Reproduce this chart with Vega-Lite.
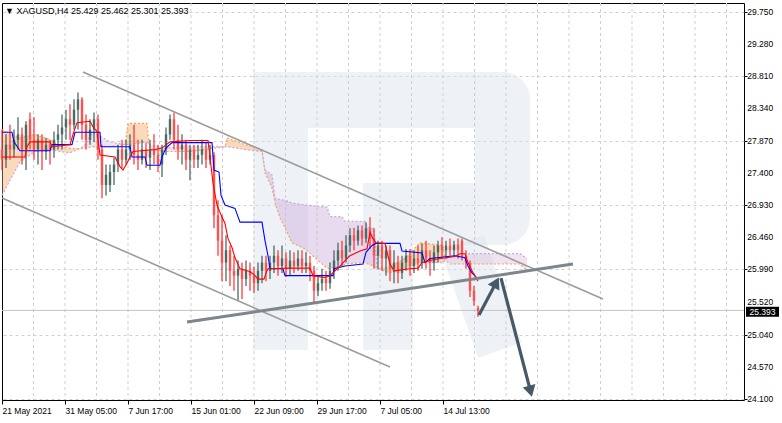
{
  "$schema": "https://vega.github.io/schema/vega-lite/v6.json",
  "width": 742,
  "height": 397,
  "autosize": {"type": "none"},
  "padding": {"left": 2, "top": 3, "right": 38, "bottom": 23},
  "background": "#ffffff",
  "config": {"view": {"stroke": "#000000", "strokeWidth": 1}, "font": "Liberation Sans"},
  "datasets": {
    "vgrid": [
      {"t":15.75},{"t":31.5},{"t":47.25},{"t":63},{"t":78.75},{"t":94.5},{"t":110.25},{"t":126},{"t":141.75},{"t":157.5},
      {"t":173.25},{"t":189},{"t":204.75},{"t":220.5},{"t":236.25},{"t":252},{"t":267.75},{"t":283.5},{"t":299.25},{"t":315},
      {"t":330.75},{"t":346.5},{"t":362.25}
    ],
    "ylab": [
      {"p":24.1},{"p":24.57},{"p":25.04},{"p":25.52},{"p":25.99},{"p":26.46},{"p":26.93},{"p":27.4},{"p":27.87},{"p":28.34},{"p":28.81},{"p":29.28},{"p":29.75}
    ],
    "wm": [
      {"x1":125.5,"x2":153,"y1":28.869,"y2":24.815},
      {"x1":153,"x2":237,"y1":28.869,"y2":28.053},
      {"x1":180.5,"x2":237,"y1":27.251,"y2":26.347},
      {"x1":180.5,"x2":205.5,"y1":26.347,"y2":24.815}
    ],
    "wmbowl": [
      {"x1":236.5,"x2":264,"y1":28.869,"y2":26.347}
    ],
    "wmleg": [
      {"t":230,"p":26.38},{"t":249,"p":24.815}
    ],
    "bars": [
      {"t":0,"o":27.74,"h":28.03,"l":27.44,"c":27.59},{"t":2,"o":27.59,"h":27.96,"l":27.47,"c":27.81},
      {"t":4,"o":27.81,"h":28.10,"l":27.59,"c":27.74},{"t":6,"o":27.74,"h":28.03,"l":27.62,"c":27.88},
      {"t":8,"o":27.88,"h":28.21,"l":27.74,"c":27.96},{"t":10,"o":27.96,"h":28.06,"l":27.52,"c":27.74},
      {"t":12,"o":27.74,"h":28.15,"l":27.44,"c":28.10},{"t":14,"o":28.18,"h":28.28,"l":27.74,"c":27.88},
      {"t":16,"o":27.88,"h":28.21,"l":27.59,"c":27.74},{"t":18,"o":27.74,"h":27.96,"l":27.52,"c":27.88},
      {"t":20,"o":27.88,"h":27.96,"l":27.44,"c":27.71},{"t":22,"o":27.71,"h":27.91,"l":27.59,"c":27.81},
      {"t":24,"o":27.81,"h":27.88,"l":27.52,"c":27.74},{"t":26,"o":27.74,"h":28.00,"l":27.62,"c":27.88},
      {"t":28,"o":27.88,"h":28.10,"l":27.74,"c":27.96},{"t":30,"o":27.96,"h":28.25,"l":27.74,"c":28.06},
      {"t":32,"o":28.06,"h":28.32,"l":27.88,"c":28.18},{"t":34,"o":28.18,"h":28.40,"l":27.88,"c":28.10},
      {"t":36,"o":28.10,"h":28.47,"l":28.03,"c":28.32},{"t":38,"o":28.32,"h":28.57,"l":28.03,"c":28.47},
      {"t":40,"o":28.47,"h":28.50,"l":27.88,"c":28.10},{"t":42,"o":28.10,"h":28.25,"l":27.74,"c":27.88},
      {"t":44,"o":27.88,"h":28.18,"l":27.81,"c":28.03},{"t":46,"o":28.03,"h":28.28,"l":27.85,"c":28.18},
      {"t":48,"o":28.18,"h":28.25,"l":27.59,"c":27.74},{"t":50,"o":27.74,"h":27.81,"l":27.03,"c":27.22},
      {"t":52,"o":27.22,"h":27.52,"l":27.07,"c":27.37},{"t":54,"o":27.22,"h":27.52,"l":27.12,"c":27.41},
      {"t":56,"o":27.41,"h":27.62,"l":27.22,"c":27.52},{"t":58,"o":27.52,"h":27.81,"l":27.41,"c":27.74},
      {"t":60,"o":27.74,"h":27.88,"l":27.47,"c":27.59},{"t":62,"o":27.59,"h":27.88,"l":27.52,"c":27.74},
      {"t":64,"o":27.74,"h":27.96,"l":27.59,"c":27.81},{"t":66,"o":27.81,"h":28.10,"l":27.52,"c":27.66},
      {"t":68,"o":27.66,"h":27.88,"l":27.44,"c":27.59},{"t":70,"o":27.59,"h":27.88,"l":27.52,"c":27.74},
      {"t":72,"o":27.74,"h":27.84,"l":27.47,"c":27.62},{"t":74,"o":27.62,"h":27.88,"l":27.44,"c":27.74},
      {"t":76,"o":27.74,"h":27.96,"l":27.52,"c":27.66},{"t":78,"o":27.66,"h":27.81,"l":27.41,"c":27.52},
      {"t":80,"o":27.52,"h":27.81,"l":27.34,"c":27.74},{"t":82,"o":27.74,"h":28.06,"l":27.66,"c":27.96},
      {"t":84,"o":27.96,"h":28.25,"l":27.88,"c":28.18},{"t":86,"o":28.18,"h":28.28,"l":27.74,"c":27.88},
      {"t":88,"o":27.88,"h":28.10,"l":27.59,"c":27.74},{"t":90,"o":27.74,"h":27.96,"l":27.52,"c":27.81},
      {"t":92,"o":27.81,"h":27.88,"l":27.44,"c":27.59},{"t":94,"o":27.59,"h":27.81,"l":27.29,"c":27.74},
      {"t":96,"o":27.74,"h":27.81,"l":27.47,"c":27.59},{"t":98,"o":27.59,"h":27.81,"l":27.47,"c":27.66},
      {"t":100,"o":27.66,"h":27.88,"l":27.52,"c":27.74},{"t":102,"o":27.74,"h":27.85,"l":27.47,"c":27.59},
      {"t":104,"o":27.59,"h":27.81,"l":27.52,"c":27.66},{"t":106,"o":27.66,"h":27.70,"l":26.59,"c":26.78},
      {"t":108,"o":26.78,"h":27.00,"l":26.19,"c":26.41},{"t":110,"o":26.41,"h":26.78,"l":25.82,"c":26.09},
      {"t":112,"o":26.09,"h":26.49,"l":25.82,"c":26.27},{"t":114,"o":26.27,"h":26.34,"l":25.75,"c":25.97},
      {"t":116,"o":25.97,"h":26.19,"l":25.68,"c":25.90},{"t":118,"o":25.90,"h":26.12,"l":25.53,"c":26.00},
      {"t":120,"o":26.00,"h":26.09,"l":25.56,"c":25.85},{"t":122,"o":25.85,"h":26.12,"l":25.75,"c":25.97},
      {"t":124,"o":25.97,"h":26.09,"l":25.68,"c":25.90},{"t":126,"o":25.90,"h":26.03,"l":25.65,"c":25.79},
      {"t":128,"o":25.79,"h":26.09,"l":25.68,"c":25.97},{"t":130,"o":25.97,"h":26.19,"l":25.79,"c":26.09},
      {"t":132,"o":26.09,"h":26.19,"l":25.82,"c":25.97},{"t":134,"o":25.97,"h":26.19,"l":25.85,"c":26.09},
      {"t":136,"o":26.09,"h":26.34,"l":25.94,"c":26.19},{"t":138,"o":26.19,"h":26.27,"l":25.90,"c":26.04},
      {"t":140,"o":26.04,"h":26.34,"l":25.94,"c":26.15},{"t":142,"o":26.15,"h":26.24,"l":25.88,"c":26.00},
      {"t":144,"o":26.00,"h":26.27,"l":25.90,"c":26.12},{"t":146,"o":26.12,"h":26.24,"l":25.94,"c":26.04},
      {"t":148,"o":26.04,"h":26.27,"l":25.97,"c":26.15},{"t":150,"o":26.15,"h":26.27,"l":25.94,"c":26.04},
      {"t":152,"o":26.04,"h":26.24,"l":25.94,"c":26.09},{"t":154,"o":26.09,"h":26.19,"l":25.82,"c":25.97},
      {"t":156,"o":25.97,"h":26.04,"l":25.50,"c":25.68},{"t":158,"o":25.68,"h":25.90,"l":25.60,"c":25.79},
      {"t":160,"o":25.79,"h":26.00,"l":25.68,"c":25.85},{"t":162,"o":25.85,"h":25.97,"l":25.68,"c":25.79},
      {"t":164,"o":25.79,"h":26.09,"l":25.71,"c":25.97},{"t":166,"o":25.97,"h":26.27,"l":25.85,"c":26.12},
      {"t":168,"o":26.12,"h":26.38,"l":25.97,"c":26.27},{"t":170,"o":26.27,"h":26.41,"l":26.04,"c":26.15},
      {"t":172,"o":26.15,"h":26.49,"l":26.09,"c":26.34},{"t":174,"o":26.34,"h":26.59,"l":26.24,"c":26.49},
      {"t":176,"o":26.49,"h":26.60,"l":26.27,"c":26.41},{"t":178,"o":26.41,"h":26.63,"l":26.34,"c":26.56},
      {"t":180,"o":26.56,"h":26.63,"l":26.34,"c":26.44},{"t":182,"o":26.44,"h":26.68,"l":26.38,"c":26.59},
      {"t":184,"o":26.59,"h":26.75,"l":26.29,"c":26.44},{"t":186,"o":26.44,"h":26.59,"l":26.00,"c":26.19},
      {"t":188,"o":26.19,"h":26.41,"l":26.00,"c":26.34},{"t":190,"o":26.34,"h":26.41,"l":25.97,"c":26.15},
      {"t":192,"o":26.15,"h":26.34,"l":25.90,"c":26.27},{"t":194,"o":26.27,"h":26.34,"l":25.82,"c":26.00},
      {"t":196,"o":26.00,"h":26.27,"l":25.79,"c":26.09},{"t":198,"o":26.09,"h":26.19,"l":25.79,"c":25.94},
      {"t":200,"o":25.94,"h":26.19,"l":25.85,"c":26.09},{"t":202,"o":26.09,"h":26.29,"l":25.97,"c":26.19},
      {"t":204,"o":26.19,"h":26.29,"l":25.90,"c":26.04},{"t":206,"o":26.04,"h":26.27,"l":25.94,"c":26.15},
      {"t":208,"o":26.15,"h":26.34,"l":25.97,"c":26.09},{"t":210,"o":26.09,"h":26.37,"l":26.00,"c":26.27},
      {"t":212,"o":26.27,"h":26.41,"l":26.00,"c":26.15},{"t":214,"o":26.15,"h":26.27,"l":25.90,"c":26.09},
      {"t":216,"o":26.09,"h":26.34,"l":25.97,"c":26.24},{"t":218,"o":26.24,"h":26.41,"l":26.09,"c":26.34},
      {"t":220,"o":26.34,"h":26.46,"l":26.15,"c":26.27},{"t":222,"o":26.27,"h":26.41,"l":26.15,"c":26.34},
      {"t":224,"o":26.34,"h":26.44,"l":26.19,"c":26.27},{"t":226,"o":26.27,"h":26.41,"l":26.18,"c":26.35},
      {"t":228,"o":26.35,"h":26.44,"l":26.15,"c":26.27},{"t":230,"o":26.41,"h":26.44,"l":26.12,"c":26.19},
      {"t":232,"o":26.19,"h":26.27,"l":26.00,"c":26.09},{"t":234,"o":26.09,"h":26.12,"l":25.59,"c":25.68},
      {"t":236,"o":25.68,"h":25.75,"l":25.46,"c":25.53},{"t":238,"o":25.429,"h":25.462,"l":25.301,"c":25.393}
    ],
    "tenkan": [
      {"t":0,"p":27.63},{"t":11.5,"p":27.63},{"t":12.5,"p":27.78},{"t":14,"p":27.85},{"t":24,"p":27.85},
      {"t":25,"p":27.78},{"t":34,"p":27.81},{"t":35.5,"p":27.96},{"t":37.5,"p":28.13},{"t":44,"p":28.15},
      {"t":45.5,"p":28.07},{"t":47.5,"p":28.00},{"t":49,"p":27.66},{"t":56.5,"p":27.63},{"t":59,"p":27.49},
      {"t":60.5,"p":27.44},{"t":62.5,"p":27.54},{"t":64,"p":27.63},{"t":65.5,"p":27.71},{"t":76.5,"p":27.74},
      {"t":80,"p":27.76},{"t":84,"p":27.85},{"t":94,"p":27.87},{"t":103,"p":27.87},{"t":104,"p":27.63},
      {"t":105.5,"p":27.25},{"t":107.5,"p":26.93},{"t":109,"p":26.82},{"t":111.5,"p":26.66},{"t":113,"p":26.44},
      {"t":115,"p":26.31},{"t":116.5,"p":26.16},{"t":119,"p":26.00},{"t":124,"p":25.96},{"t":126.5,"p":25.90},
      {"t":128,"p":25.85},{"t":131,"p":25.85},{"t":132,"p":25.94},{"t":133,"p":26.00},{"t":144,"p":26.01},
      {"t":154,"p":26.01},{"t":155.5,"p":25.90},{"t":161.5,"p":25.87},{"t":164,"p":25.90},{"t":166.5,"p":25.97},
      {"t":169,"p":26.04},{"t":171.5,"p":26.12},{"t":174,"p":26.19},{"t":179,"p":26.26},{"t":182.5,"p":26.29},
      {"t":184,"p":26.53},{"t":185.5,"p":26.44},{"t":187,"p":26.38},{"t":191.5,"p":26.37},{"t":194,"p":26.07},
      {"t":196,"p":25.97},{"t":204,"p":26.00},{"t":208,"p":26.01},{"t":210,"p":26.09},{"t":214,"p":26.12},
      {"t":219,"p":26.15},{"t":226.5,"p":26.18},{"t":229,"p":26.22},{"t":231.5,"p":26.22},{"t":233,"p":26.09},
      {"t":235,"p":25.97},{"t":238,"p":25.82}
    ],
    "kijun": [
      {"t":0,"p":27.99},{"t":5,"p":27.99},{"t":6,"p":27.85},{"t":9,"p":27.72},{"t":24,"p":27.72},
      {"t":25,"p":27.81},{"t":35,"p":27.81},{"t":36.5,"p":27.99},{"t":49,"p":27.99},{"t":49.5,"p":27.78},
      {"t":64,"p":27.78},{"t":65,"p":27.63},{"t":71.5,"p":27.63},{"t":72.5,"p":27.51},{"t":79,"p":27.51},
      {"t":80,"p":27.63},{"t":82,"p":27.76},{"t":85,"p":27.84},{"t":105,"p":27.84},{"t":106,"p":27.44},
      {"t":108.5,"p":27.41},{"t":109.5,"p":27.07},{"t":111.5,"p":26.93},{"t":116.5,"p":26.88},{"t":119,"p":26.68},
      {"t":130,"p":26.68},{"t":131.5,"p":26.41},{"t":133,"p":26.19},{"t":134,"p":26.00},{"t":140.5,"p":26.00},
      {"t":141.5,"p":25.90},{"t":165.5,"p":25.90},{"t":166,"p":26.00},{"t":171.5,"p":26.04},{"t":180.5,"p":26.07},
      {"t":182,"p":26.24},{"t":185,"p":26.34},{"t":187,"p":26.37},{"t":199,"p":26.37},{"t":200,"p":26.26},
      {"t":210,"p":26.23},{"t":211.5,"p":26.09},{"t":214,"p":26.15},{"t":226.5,"p":26.19},{"t":231.5,"p":26.16},
      {"t":233,"p":26.04},{"t":235,"p":25.94},{"t":238,"p":25.85}
    ],
    "cloud": [
      {"s":"o1","t":0,"a":28.03,"b":27.07},{"s":"o1","t":4,"a":27.96,"b":27.29},{"s":"o1","t":9,"a":27.91,"b":27.56},
      {"s":"o1","t":16.5,"a":27.96,"b":27.71},{"s":"o1","t":24,"a":27.88,"b":27.74},{"s":"o1","t":29,"a":27.79,"b":27.71},
      {"s":"o1","t":34,"a":27.76,"b":27.69},{"s":"o1","t":39,"a":27.75,"b":27.75},
      {"s":"p1","t":39,"a":27.75,"b":27.75},{"s":"p1","t":41.5,"a":27.76,"b":27.81},{"s":"p1","t":45.5,"a":27.78,"b":27.99},
      {"s":"p1","t":54,"a":27.78,"b":27.85},{"s":"p1","t":61.5,"a":27.81,"b":27.81},
      {"s":"o2","t":61.5,"a":27.81,"b":27.81},{"s":"o2","t":63,"a":28.12,"b":27.81},{"s":"o2","t":72.5,"a":28.12,"b":27.85},
      {"s":"o2","t":73.5,"a":27.81,"b":27.81},
      {"s":"p2","t":73.5,"a":27.81,"b":27.81},{"s":"p2","t":74,"a":27.74,"b":27.81},{"s":"p2","t":81.5,"a":27.71,"b":27.76},
      {"s":"p2","t":94,"a":27.71,"b":27.78},{"s":"p2","t":111.5,"a":27.78,"b":27.78},
      {"s":"o3","t":111.5,"a":27.78,"b":27.78},{"s":"o3","t":112.5,"a":27.91,"b":27.78},{"s":"o3","t":121.5,"a":27.81,"b":27.74},
      {"s":"o3","t":130,"a":27.74,"b":27.71},{"s":"o3","t":130.75,"a":27.57,"b":27.57},
      {"s":"p3","t":130.75,"a":27.57,"b":27.57},{"s":"p3","t":131.5,"a":27.40,"b":27.44},{"s":"p3","t":135,"a":27.18,"b":27.37},
      {"s":"p3","t":136.5,"a":26.96,"b":27.03},{"s":"p3","t":139,"a":26.74,"b":27.01},{"s":"p3","t":141.5,"a":26.60,"b":27.00},
      {"s":"p3","t":145,"a":26.38,"b":26.96},{"s":"p3","t":151.5,"a":26.29,"b":26.93},{"s":"p3","t":158,"a":26.12,"b":26.91},
      {"s":"p3","t":162.5,"a":26.01,"b":26.90},{"s":"p3","t":164,"a":26.01,"b":26.76},{"s":"p3","t":170,"a":26.04,"b":26.76},
      {"s":"p3","t":171.5,"a":26.07,"b":26.69},{"s":"p3","t":181.5,"a":26.09,"b":26.69},{"s":"p3","t":183,"a":26.07,"b":26.60},
      {"s":"p3","t":186,"a":26.04,"b":26.59},{"s":"p3","t":187.5,"a":26.00,"b":26.00},
      {"s":"o4","t":187.5,"a":26.00,"b":26.00},{"s":"o4","t":194,"a":26.03,"b":25.94},{"s":"o4","t":201.5,"a":26.15,"b":26.00},
      {"s":"o4","t":209,"a":26.38,"b":26.09},{"s":"o4","t":220.5,"a":26.34,"b":26.09},{"s":"o4","t":221.5,"a":26.13,"b":26.13},
      {"s":"p4","t":221.5,"a":26.13,"b":26.13},{"s":"p4","t":224,"a":26.07,"b":26.18},{"s":"p4","t":232.5,"a":26.07,"b":26.18},
      {"s":"p4","t":233.5,"a":26.07,"b":26.22},{"s":"p4","t":259,"a":26.07,"b":26.22},{"s":"p4","t":262.5,"a":25.97,"b":26.15}
    ],
    "lines": [
      {"id":"ch1","t":40.5,"p":28.869},{"id":"ch1","t":300.5,"p":25.559},
      {"id":"ch2","t":0,"p":27.032},{"id":"ch2","t":194,"p":24.568},
      {"id":"sup","t":92.5,"p":25.224},{"id":"sup","t":285.5,"p":26.069},
      {"id":"a1","t":238.5,"p":25.326},{"id":"a1","t":247.1,"p":25.80},
      {"id":"a2","t":249.5,"p":25.865},{"id":"a2","t":264.25,"p":24.215}
    ],
    "heads": [
      {"t":247.1,"p":25.80,"ang":27.8},
      {"t":264.25,"p":24.215,"ang":165.4}
    ]
  },
  "layer": [
    {
      "data": {"name": "wm"},
      "mark": {"type": "rect", "color": "#dde5ee", "opacity": 0.5},
      "encoding": {
        "x": {"field": "x1", "type": "quantitative", "scale": {"domain": [0, 371], "nice": false, "zero": false},
          "axis": {
            "values": [0, 31.5, 63, 94.5, 126, 157.5, 189, 220.5],
            "labelExpr": "['21 May 2021','31 May 05:00','7 Jun 17:00','15 Jun 01:00','22 Jun 09:00','29 Jun 17:00','7 Jul 05:00','14 Jul 13:00'][indexof([0,31.5,63,94.5,126,157.5,189,220.5], datum.value)]",
            "labelAlign": "left", "labelBaseline": "top", "labelPadding": 2, "labelFontSize": 8.5, "labelFont": "Liberation Sans", "labelColor": "#000000",
            "labelOverlap": false, "labelFlush": false, "labelBound": false,
            "tickSize": 4, "tickColor": "#000000",
            "grid": false, "domain": false, "title": null
          }},
        "x2": {"field": "x2"},
        "y": {"field": "y1", "type": "quantitative", "scale": {"domain": [24.087, 29.875], "nice": false, "zero": false},
          "axis": {
            "orient": "right",
            "values": [24.1, 24.57, 25.04, 25.52, 25.99, 26.46, 26.93, 27.4, 27.87, 28.34, 28.81, 29.28, 29.75],
            "labels": false, "tickSize": 3, "tickColor": "#000000",
            "grid": true, "gridColor": "#d0d0d0", "gridDash": [3, 3], "domain": false, "title": null
          }},
        "y2": {"field": "y2"}
      }
    },
    {
      "data": {"name": "wmbowl"},
      "mark": {"type": "rect", "color": "#dde5ee", "opacity": 0.5, "cornerRadiusTopRight": 55, "cornerRadiusBottomRight": 50},
      "encoding": {
        "x": {"field": "x1", "type": "quantitative"},
        "x2": {"field": "x2"},
        "y": {"field": "y1", "type": "quantitative"},
        "y2": {"field": "y2"}
      }
    },
    {
      "data": {"name": "wmleg"},
      "mark": {"type": "line", "color": "#dde5ee", "opacity": 0.5, "strokeWidth": 46, "strokeCap": "butt"},
      "encoding": {
        "x": {"field": "t", "type": "quantitative"},
        "y": {"field": "p", "type": "quantitative"}
      }
    },
    {
      "data": {"name": "vgrid"},
      "mark": {"type": "rule", "color": "#d0d0d0", "strokeWidth": 1, "strokeDash": [3, 3]},
      "encoding": {"x": {"field": "t", "type": "quantitative"}}
    },
    {
      "data": {"name": "ylab"},
      "mark": {"type": "text", "align": "left", "baseline": "middle", "font": "Liberation Sans", "fontSize": 8.5, "color": "#000000", "clip": false},
      "encoding": {
        "x": {"datum": 372.6, "type": "quantitative"},
        "y": {"field": "p", "type": "quantitative"},
        "text": {"field": "p", "type": "quantitative", "format": ".3f"}
      }
    },
    {
      "data": {"name": "cloud"},
      "mark": {"type": "area", "opacity": 0.42},
      "encoding": {
        "x": {"field": "t", "type": "quantitative"},
        "y": {"field": "a", "type": "quantitative"},
        "y2": {"field": "b"},
        "detail": {"field": "s"},
        "color": {"field": "s", "type": "nominal", "legend": null,
          "scale": {"domain": ["o1","p1","o2","p2","o3","p3","o4","p4"], "range": ["#f4a460","#d8bfd8","#f4a460","#d8bfd8","#f4a460","#c9a9d9","#f4a460","#d8bfd8"]}}
      }
    },
    {
      "data": {"name": "cloud"},
      "mark": {"type": "line", "color": "#f4a460", "strokeWidth": 1.2, "strokeDash": [2, 2]},
      "encoding": {
        "x": {"field": "t", "type": "quantitative"},
        "y": {"field": "a", "type": "quantitative"},
        "order": {"field": "t"}
      }
    },
    {
      "data": {"name": "cloud"},
      "mark": {"type": "line", "color": "#c8a8d8", "strokeWidth": 1.2, "strokeDash": [2, 2]},
      "encoding": {
        "x": {"field": "t", "type": "quantitative"},
        "y": {"field": "b", "type": "quantitative"},
        "order": {"field": "t"}
      }
    },
    {
      "data": {"values": [{}]},
      "mark": {"type": "rule", "color": "#c4c4c4", "strokeWidth": 1},
      "encoding": {"y": {"datum": 25.393, "type": "quantitative"}}
    },
    {
      "data": {"name": "bars"},
      "mark": {"type": "rule", "strokeWidth": 1.2},
      "encoding": {
        "x": {"field": "t", "type": "quantitative"},
        "y": {"field": "l", "type": "quantitative"},
        "y2": {"field": "h"},
        "color": {"condition": {"test": "datum.c >= datum.o", "value": "#3f5f58"}, "value": "#ff2a2a"}
      }
    },
    {
      "data": {"name": "bars"},
      "mark": {"type": "rule", "strokeWidth": 2.4},
      "encoding": {
        "x": {"field": "t", "type": "quantitative"},
        "y": {"field": "o", "type": "quantitative"},
        "y2": {"field": "c"},
        "color": {"condition": {"test": "datum.c >= datum.o", "value": "#4a6a63"}, "value": "#ff5050"}
      }
    },
    {
      "data": {"name": "kijun"},
      "mark": {"type": "line", "color": "#0000ff", "strokeWidth": 1.1},
      "encoding": {
        "x": {"field": "t", "type": "quantitative"},
        "y": {"field": "p", "type": "quantitative"}
      }
    },
    {
      "data": {"name": "tenkan"},
      "mark": {"type": "line", "color": "#ff0000", "strokeWidth": 1.1},
      "encoding": {
        "x": {"field": "t", "type": "quantitative"},
        "y": {"field": "p", "type": "quantitative"}
      }
    },
    {
      "data": {"name": "lines"},
      "transform": [{"filter": "datum.id == 'ch1' || datum.id == 'ch2'"}],
      "mark": {"type": "line", "color": "#9c9c9c", "strokeWidth": 1.6},
      "encoding": {
        "x": {"field": "t", "type": "quantitative"},
        "y": {"field": "p", "type": "quantitative"},
        "detail": {"field": "id"}
      }
    },
    {
      "data": {"name": "lines"},
      "transform": [{"filter": "datum.id == 'sup'"}],
      "mark": {"type": "line", "color": "#7c868c", "strokeWidth": 3},
      "encoding": {
        "x": {"field": "t", "type": "quantitative"},
        "y": {"field": "p", "type": "quantitative"}
      }
    },
    {
      "data": {"name": "lines"},
      "transform": [{"filter": "datum.id == 'a1' || datum.id == 'a2'"}],
      "mark": {"type": "line", "color": "#475966", "strokeWidth": 3.2},
      "encoding": {
        "x": {"field": "t", "type": "quantitative"},
        "y": {"field": "p", "type": "quantitative"},
        "detail": {"field": "id"}
      }
    },
    {
      "data": {"name": "heads"},
      "mark": {"type": "point", "shape": "triangle-up", "filled": true, "color": "#475966", "opacity": 1, "size": 170},
      "encoding": {
        "x": {"field": "t", "type": "quantitative"},
        "y": {"field": "p", "type": "quantitative"},
        "angle": {"field": "ang", "type": "quantitative", "scale": null}
      }
    },
    {
      "data": {"values": [{}]},
      "mark": {"type": "rect", "color": "#000000", "clip": false},
      "encoding": {
        "x": {"datum": 372, "type": "quantitative"},
        "x2": {"datum": 388.5},
        "y": {"datum": 25.447, "type": "quantitative"},
        "y2": {"datum": 25.301}
      }
    },
    {
      "data": {"values": [{}]},
      "mark": {"type": "text", "text": "25.393", "color": "#ffffff", "font": "Liberation Sans", "fontSize": 8.5, "align": "center", "baseline": "middle", "clip": false},
      "encoding": {
        "x": {"datum": 380.25, "type": "quantitative"},
        "y": {"datum": 25.374, "type": "quantitative"}
      }
    },
    {
      "data": {"values": [{}]},
      "mark": {"type": "text", "text": "▼ XAGUSD,H4  25.429 25.462 25.301 25.393", "color": "#000000", "font": "Liberation Sans", "fontSize": 9, "align": "left", "baseline": "middle"},
      "encoding": {
        "x": {"datum": 1.5, "type": "quantitative"},
        "y": {"datum": 29.759, "type": "quantitative"}
      }
    }
  ]
}
